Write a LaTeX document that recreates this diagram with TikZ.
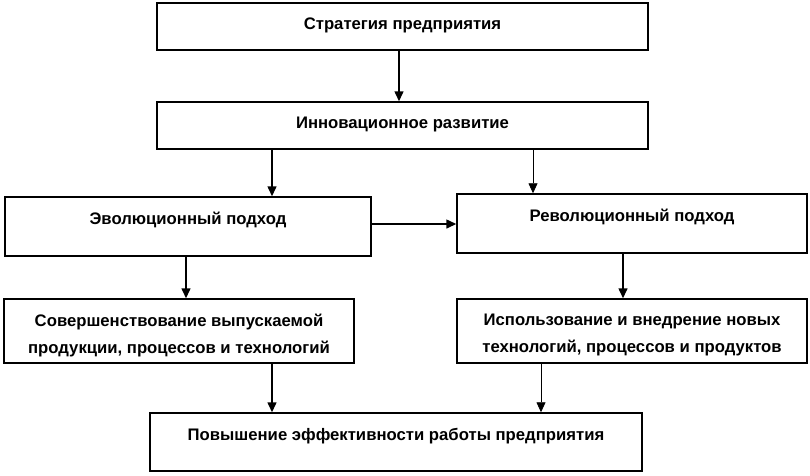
\documentclass[tikz,border=0pt]{standalone}
\usepackage{fontspec}
\setmainfont{Liberation Sans}
\usepackage{tikz}
\usetikzlibrary{arrows.meta}

\begin{document}
\begin{tikzpicture}[x=1pt,y=-1pt,
		box/.style={draw,line width=1.5pt,inner sep=0pt},
		txt/.style={anchor=north,yshift=-15.5pt,align=center,inner sep=0pt,font=\bfseries\fontsize{16.7}{27}\selectfont},
		arr/.style={line width=1.5pt,-{Triangle[width=9pt,length=10pt]}},
		thinarr/.style={line width=0.8pt,-{Triangle[width=9pt,length=10pt]}}]
				\useasboundingbox (0,0) rectangle (810,475);
				\node[box,minimum width=491pt,minimum height=47pt,label={[txt]north:{Стратегия предприятия}}] (strat) at (402.5,26.5) {};
				\node[box,minimum width=491pt,minimum height=47pt,label={[txt]north:{Инновационное развитие}}] (innov) at (402.5,125.5) {};
				\node[box,minimum width=366pt,minimum height=59pt,label={[txt]north:{Эволюционный подход}}] (evol) at (188,226.5) {};
				\node[box,minimum width=350pt,minimum height=59pt,label={[txt]north:{Революционный подход}}] (revol) at (632,223.5) {};
				\node[box,minimum width=350pt,minimum height=64pt,label={[txt]north:{Совершенствование выпускаемой\\продукции, процессов и технологий}}] (sover) at (179,331) {};
				\node[box,minimum width=350pt,minimum height=64pt,label={[txt]north:{Использование и внедрение новых\\технологий, процессов и продуктов}}] (ispol) at (632,331) {};
				\node[box,minimum width=492pt,minimum height=58pt,label={[txt]north:{Повышение эффективности работы предприятия}}] (effect) at (396,442) {};
				\draw[arr] (strat.south -| 399,0) -- (innov.north -| 399,0);
				\draw[arr] (innov.south -| 272,0) -- (evol.north -| 272,0);
				\draw[thinarr] (innov.south -| 533,0) -- (revol.north -| 533,0);
				\draw[arr] (evol.east |- 0,224) -- (revol.west |- 0,224);
				\draw[arr] (evol.south -| 186,0) -- (sover.north -| 186,0);
				\draw[arr] (revol.south -| 623,0) -- (ispol.north -| 623,0);
				\draw[arr] (sover.south -| 272,0) -- (effect.north -| 272,0);
				\draw[thinarr] (ispol.south -| 541,0) -- (effect.north -| 541,0);
\end{tikzpicture}
\end{document}
